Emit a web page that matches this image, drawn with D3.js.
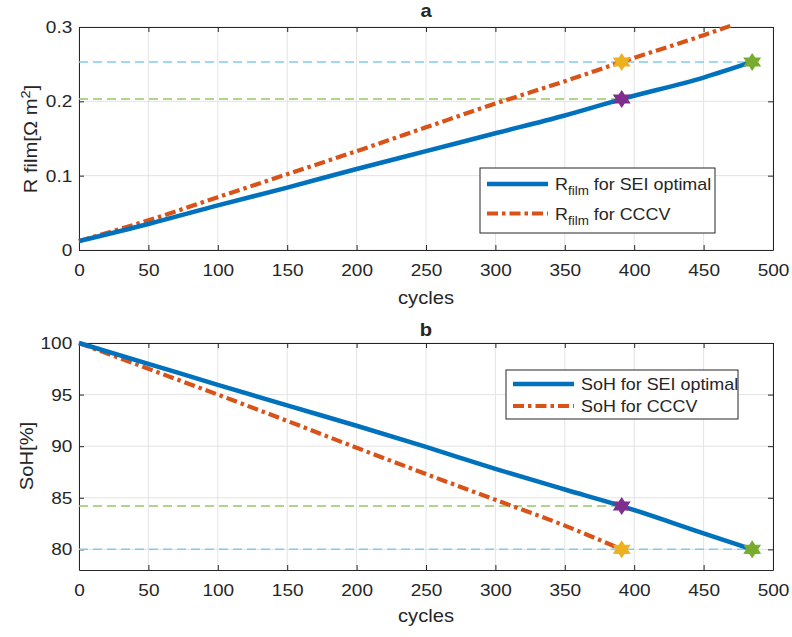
<!DOCTYPE html>
<html>
<head>
<meta charset="utf-8">
<script src="https://cdn.jsdelivr.net/npm/d3@7"></script>
<style>
  body { margin: 0; background: #fff; }
  text { font-family: "Liberation Sans", Arial, sans-serif; fill: #262626; }
</style>
</head>
<body>
<div id="chart"></div>
<script>
// data
var xTicks = [0, 50, 100, 150, 200, 250, 300, 350, 400, 450, 500];
var rTicks = [0, 0.1, 0.2, 0.3];
var sohTicks = [80, 85, 90, 95, 100];

var cyclesSei = [0, 50, 100, 150, 200, 250, 300, 350, 391, 450, 485];
var rSei = [0.012, 0.035, 0.060, 0.084, 0.109, 0.133, 0.157, 0.181, 0.203, 0.232, 0.253];
var sohSei = [100, 97.98, 95.95, 93.95, 91.98, 89.93, 87.8, 85.8, 84.2, 81.56, 80.0];

var cyclesCccvR = [0, 50, 100, 150, 200, 250, 300, 350, 391, 450, 470];
var rCccv = [0.012, 0.040, 0.071, 0.102, 0.133, 0.165, 0.197, 0.227, 0.253, 0.289, 0.302];
var cyclesCccvS = [0, 50, 100, 150, 200, 250, 300, 350, 391];
var sohCccv = [100, 97.5, 95.0, 92.45, 89.85, 87.3, 84.8, 82.3, 80.0];

// reference levels [value, end cycle, color] and markers [cycle, value, color]
var rLevels = [[0.253, 485, "#80cbee"], [0.203, 391, "#98c667"]];
var rMarks = [[391, 0.253, "#EDB120"], [391, 0.203, "#7E2F8E"], [485, 0.253, "#77AC30"]];
var sohLevels = [[84.2, 391, "#98c667"], [80, 485, "#80cbee"]];
var sohMarks = [[391, 84.2, "#7E2F8E"], [391, 80, "#EDB120"], [485, 80, "#77AC30"]];

var W = 792, H = 637;
var SX = 1.12; // text is a bit wide in the picture

var svg = d3.select("#chart").append("svg")
    .attr("width", W).attr("height", H);

// hexagram marker path
function hexagram(r) {
    var pts = [];
    for (var i = 0; i < 12; i++) {
        var a = Math.PI / 6 * i - Math.PI / 2;
        var rr = (i % 2 === 0) ? r : r * 0.58;
        pts.push([rr * Math.cos(a), rr * Math.sin(a)]);
    }
    return "M" + pts.join("L") + "Z";
}

function panel(opt) {
    var x = d3.scaleLinear().domain([0, 500]).range([79, 773]);
    var y = d3.scaleLinear().domain(opt.yDomain).range([opt.bottom, opt.top]);
    var g = svg.append("g");

    // grid
    g.selectAll(".gx").data(xTicks).enter().append("line")
        .attr("x1", function (d) { return x(d); }).attr("x2", function (d) { return x(d); })
        .attr("y1", opt.top).attr("y2", opt.bottom)
        .attr("stroke", "#e3e3e3").attr("stroke-width", 1);
    g.selectAll(".gy").data(opt.yTicks).enter().append("line")
        .attr("y1", function (d) { return y(d); }).attr("y2", function (d) { return y(d); })
        .attr("x1", 79).attr("x2", 773)
        .attr("stroke", "#e3e3e3").attr("stroke-width", 1);

    // axes (ticks pointing inwards)
    var ax = g.append("g").attr("transform", "translate(0," + opt.bottom + ")")
        .call(d3.axisBottom(x).tickValues(xTicks).tickSizeInner(-5).tickSizeOuter(0).tickPadding(14));
    var axTop = g.append("g").attr("transform", "translate(0," + opt.top + ")")
        .call(d3.axisTop(x).tickValues(xTicks).tickSizeInner(-5).tickSizeOuter(0).tickFormat(""));
    var ay = g.append("g").attr("transform", "translate(79,0)")
        .call(d3.axisLeft(y).tickValues(opt.yTicks).tickSizeInner(-5).tickSizeOuter(0).tickPadding(6)
            .tickFormat(opt.fmt));
    var ayR = g.append("g").attr("transform", "translate(773,0)")
        .call(d3.axisRight(y).tickValues(opt.yTicks).tickSizeInner(-5).tickSizeOuter(0).tickFormat(""));
    [ax, axTop, ay, ayR].forEach(function (a) {
        a.select(".domain").attr("stroke", "#262626").attr("stroke-width", 1);
        a.selectAll(".tick line").attr("stroke", "#262626");
        a.selectAll("text").style("font-size", "17px").attr("fill", "#262626")
            .attr("font-family", "Liberation Sans, Arial, sans-serif");
    });
    ax.selectAll(".tick text").attr("transform", "scale(" + SX + ",1)");
    ay.selectAll(".tick text").attr("transform", "scale(" + SX + ",1)");

    // dashed reference levels
    g.selectAll(".lvl").data(opt.levels).enter().append("line")
        .attr("x1", x(0)).attr("x2", function (d) { return x(d[1]); })
        .attr("y1", function (d) { return y(d[0]); }).attr("y2", function (d) { return y(d[0]); })
        .attr("stroke", function (d) { return d[2]; })
        .attr("stroke-width", 1.5).attr("stroke-dasharray", "9,5");

    var line = d3.line().curve(d3.curveMonotoneX)
        .x(function (d) { return x(d[0]); }).y(function (d) { return y(d[1]); });

    g.append("path").datum(d3.zip(opt.cx2, opt.v2))
        .attr("d", line).attr("fill", "none")
        .attr("stroke", "#D95319").attr("stroke-width", 4.2)
        .attr("stroke-dasharray", "11,4,3.5,4");
    g.append("path").datum(d3.zip(opt.cx1, opt.v1))
        .attr("d", line).attr("fill", "none")
        .attr("stroke", "#0072BD").attr("stroke-width", 4.5);

    g.selectAll(".mk").data(opt.marks).enter().append("path")
        .attr("d", hexagram(8))
        .attr("transform", function (d) { return "translate(" + x(d[0]) + "," + y(d[1]) + ") scale(1.15,1)"; })
        .attr("fill", function (d) { return d[2]; })
        .attr("stroke", function (d) { return d[2]; }).attr("stroke-width", 1);

    // title
    svg.append("text")
        .attr("transform", "translate(426," + opt.titleY + ") scale(" + SX + ",1)")
        .attr("text-anchor", "middle").style("font-size", "18px").style("font-weight", "bold")
        .text(opt.title);

    // x label
    svg.append("text")
        .attr("transform", "translate(426," + opt.xlabY + ") scale(" + SX + ",1)")
        .attr("text-anchor", "middle").style("font-size", "18px").text("cycles");

    // legend
    var lg = svg.append("g").attr("transform", "translate(" + opt.leg[0] + "," + opt.leg[1] + ")");
    lg.append("rect").attr("width", opt.leg[2]).attr("height", opt.leg[3])
        .attr("fill", "#fff").attr("stroke", "#262626").attr("stroke-width", 1);
    var items = [
        { c: "#0072BD", dash: null, w: 4.5 },
        { c: "#D95319", dash: "11,4,3.5,4", w: 4.2 }
    ];
    items.forEach(function (it, i) {
        var yy = 16 + i * 29.5;
        if (opt.leg[3] < 55) yy = 14 + i * 22;
        lg.append("line").attr("x1", 7).attr("x2", 68).attr("y1", yy).attr("y2", yy)
            .attr("stroke", it.c).attr("stroke-width", it.w)
            .attr("stroke-dasharray", it.dash);
        var t = lg.append("text").attr("transform", "translate(75," + (yy + 6) + ") scale(" + SX + ",1)")
            .style("font-size", "16px");
        opt.legText(t, i);
    });
}

// panel a
panel({
    top: 27, bottom: 250, yDomain: [0, 0.3], yTicks: rTicks,
    fmt: function (d) { return d === 0 ? "0" : d3.format(".1f")(d); },
    cx1: cyclesSei, v1: rSei, cx2: cyclesCccvR, v2: rCccv,
    levels: rLevels, marks: rMarks,
    title: "a", titleY: 17, xlabY: 304,
    leg: [480, 168, 235, 65],
    legText: function (t, i) {
        t.append("tspan").text("R");
        t.append("tspan").attr("dy", 5).style("font-size", "12px").text("film");
        t.append("tspan").attr("dy", -5).text(i === 0 ? " for SEI optimal" : " for CCCV");
    }
});

// panel b
panel({
    top: 343, bottom: 570, yDomain: [78, 100], yTicks: sohTicks,
    fmt: d3.format("d"),
    cx1: cyclesSei, v1: sohSei, cx2: cyclesCccvS, v2: sohCccv,
    levels: sohLevels, marks: sohMarks,
    title: "b", titleY: 336, xlabY: 622,
    leg: [506, 370, 232, 49],
    legText: function (t, i) {
        t.text(i === 0 ? "SoH for SEI optimal" : "SoH for CCCV");
    }
});

// y labels
var yl = svg.append("text").attr("transform", "translate(37,139) rotate(-90) scale(" + SX + ",1)")
    .attr("text-anchor", "middle").style("font-size", "18px");
yl.append("tspan").text("R film[\u03A9 m");
yl.append("tspan").attr("dy", -7).style("font-size", "13px").text("2");
yl.append("tspan").attr("dy", 7).text("]");

svg.append("text").attr("transform", "translate(33,456) rotate(-90) scale(" + SX + ",1)")
    .attr("text-anchor", "middle").style("font-size", "18px").text("SoH[%]");
</script>
</body>
</html>
